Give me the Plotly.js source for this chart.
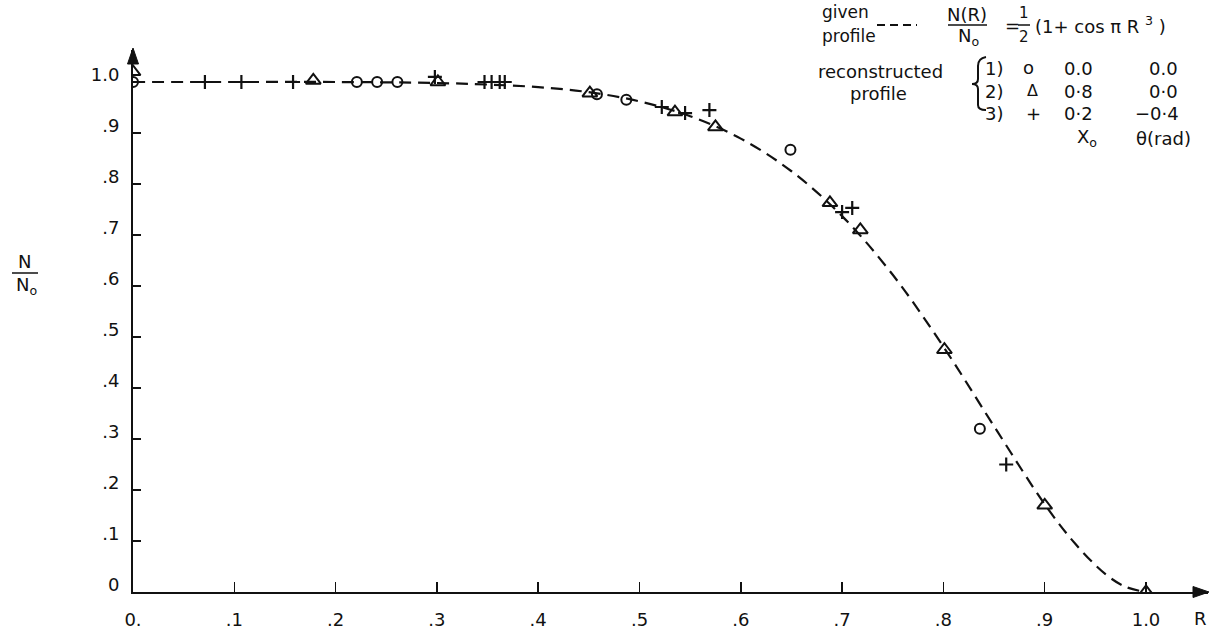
<!DOCTYPE html>
<html><head><meta charset="utf-8">
<script src="https://cdn.plot.ly/plotly-3.0.1.min.js"></script>
<style>html,body{margin:0;padding:0;background:#fff}#chart{width:1212px;height:631px}</style>
</head><body><div id="chart"></div>
<script>
// Given profile (dashed curve)
const curveR = [0, 0.1, 0.2, 0.3, 0.35, 0.4, 0.45, 0.5, 0.55, 0.6, 0.65, 0.7, 0.75, 0.8, 0.85, 0.9, 0.93, 0.96, 0.98, 1.0];
const curveN = [1.0, 1.0, 1.0, 0.998, 0.995, 0.99, 0.98, 0.962, 0.933, 0.889, 0.825, 0.737, 0.622, 0.481, 0.325, 0.172, 0.095, 0.035, 0.01, 0.0];
// 1) circles
const circR = [0.0, 0.221, 0.241, 0.261, 0.458, 0.487, 0.649, 0.836];
const circN = [1.0, 1.0, 1.0, 1.0, 0.976, 0.965, 0.867, 0.32];
// 2) triangles
const triR = [0.0, 0.178, 0.301, 0.451, 0.535, 0.575, 0.688, 0.718, 0.801, 0.90, 1.0];
const triN = [1.02, 1.003, 1.0, 0.978, 0.941, 0.912, 0.763, 0.71, 0.475, 0.17, 0.0];
// 3) crosses
const plusR = [0.071, 0.107, 0.158, 0.298, 0.347, 0.354, 0.362, 0.367, 0.522, 0.545, 0.569, 0.700, 0.710, 0.862];
const plusN = [1.0, 1.0, 1.0, 1.01, 1.0, 1.0, 1.0, 1.0, 0.951, 0.939, 0.945, 0.745, 0.753, 0.25];
// tick labels
const xTickVals = [0, 0.1, 0.2, 0.3, 0.4, 0.5, 0.6, 0.7, 0.8, 0.9, 1.0];
const xTickText = ["0.", ".1", ".2", ".3", ".4", ".5", ".6", ".7", ".8", ".9", "1.0"];
const yTickVals = [0, 0.1, 0.2, 0.3, 0.4, 0.5, 0.6, 0.7, 0.8, 0.9, 1.0];
const yTickText = ["0", ".1", ".2", ".3", ".4", ".5", ".6", ".7", ".8", ".9", "1.0"];

const W = 1212, H = 631, L = 133, R = 4, T = 50, B = 39;
const PW = W - L - R, PH = H - T - B;
const xMax = PW / 1013, yMax = PH / 510;
const FONT = "DejaVu Sans, sans-serif";
const px = X => (X - L) / PW;
const py = Y => (H - B - Y) / PH;

function txt(X, Y, s, size, anchor) {
  return {xref: 'paper', yref: 'paper', x: px(X), y: py(Y), text: s, showarrow: false,
    xanchor: anchor || 'center', yanchor: 'middle', font: {family: FONT, size: size || 18, color: '#111'}};
}
function hline(X0, X1, Y, dash) {
  return {type: 'line', xref: 'paper', yref: 'paper', x0: px(X0), x1: px(X1), y0: py(Y), y1: py(Y),
    line: {color: '#111', width: dash ? 2 : 1.5, dash: dash || 'solid'}};
}
function polyPath(pts) {
  return 'M ' + pts.map(p => px(p[0]) + ' ' + py(p[1])).join(' L ') + ' Z';
}
function pathOf(pts) {
  let s = 'M ' + px(pts[0][0]) + ' ' + py(pts[0][1]);
  for (let i = 1; i < pts.length; i += 3) {
    s += ' C ' + [pts[i], pts[i+1], pts[i+2]].map(p => px(p[0]) + ' ' + py(p[1])).join(', ');
  }
  return s;
}

const traces = [
  {x: curveR, y: curveN, mode: 'lines', line: {color: '#111', width: 2.2, dash: '12px,7px', shape: 'spline'}, hoverinfo: 'skip'},
  {x: circR, y: circN, mode: 'markers', marker: {symbol: 'circle-open', size: 10, color: '#111', line: {width: 2, color: '#111'}}},
  {x: triR, y: triN, mode: 'markers', marker: {symbol: 'triangle-up-open', size: 13, color: '#111', line: {width: 2, color: '#111'}}},
  {x: plusR, y: plusN, mode: 'markers', marker: {symbol: 'cross-thin-open', size: 10, color: '#111', line: {width: 2.2, color: '#111'}}}
];

const annotations = [
  txt(1200, 618, 'R', 18),
  // y title
  txt(25, 261, 'N', 18),
  txt(26, 286, 'N<sub>o</sub>', 18),
  // legend
  txt(820, 12, 'given', 17, 'left'),
  txt(820, 36, 'profile', 17, 'left'),
  txt(967, 14, 'N(R)', 18),
  txt(968, 37, 'N<sub>o</sub>', 18),
  txt(1003, 25, '=', 18, 'left'),
  txt(1024, 13, '1', 15),
  txt(1024, 37, '2', 15),
  txt(1033, 25, '(1+ cos \u03c0 R <sup>3</sup> )', 18, 'left'),
  txt(880, 71, 'reconstructed', 18),
  txt(878, 93, 'profile', 18),
  txt(994, 68, '1)', 18),
  txt(994, 92, '2)', 18),
  txt(994, 114, '3)', 18),
  txt(1028, 67, 'o', 18),
  txt(1032, 90, '\u0394', 16),
  txt(1033, 114, '+', 18),
  txt(1078, 68, '0.0', 18),
  txt(1078, 92, '0\u00b78', 18),
  txt(1078, 114, '0\u00b72', 18),
  txt(1163, 68, '0.0', 18),
  txt(1163, 92, '0\u00b70', 18),
  txt(1157, 114, '\u22120\u00b74', 18),
  txt(1087, 138, 'X<sub>o</sub>', 18),
  txt(1163, 138, '\u03b8(rad)', 18)
];

const shapes = [
  // arrowheads
  {type: 'path', xref: 'paper', yref: 'paper', fillcolor: '#111', line: {color: '#111', width: 1},
   path: polyPath([[1209, 592], [1193, 586.5], [1193, 597.5]])},
  {type: 'path', xref: 'paper', yref: 'paper', fillcolor: '#111', line: {color: '#111', width: 1},
   path: polyPath([[133, 48], [127.5, 64], [138.5, 64]])},
  hline(12, 38, 273),
  hline(877, 917, 25, '8px,5px'),
  hline(948, 987, 25),
  hline(1018, 1030, 25),
  {type: 'path', xref: 'paper', yref: 'paper', line: {color: '#111', width: 2},
   path: pathOf([[986, 57], [980, 58], [978, 61], [978, 66], [978, 72], [978, 78], [978, 79], [978, 83], [975, 84], [972, 84],
                 [975, 84], [978, 85], [978, 89], [978, 95], [978, 100], [978, 105], [978, 108], [980, 110], [986, 110]])}
];

const layout = {
  width: W, height: H,
  margin: {l: L, r: R, t: T, b: B, pad: 0},
  paper_bgcolor: '#fff', plot_bgcolor: '#fff',
  showlegend: false, hovermode: false,
  font: {family: FONT, size: 18, color: '#111'},
  xaxis: {range: [0, xMax], showline: true, linecolor: '#111', linewidth: 2, zeroline: false, showgrid: false,
    ticks: 'inside', ticklen: 10, tickwidth: 1.5, tickcolor: '#111',
    tickvals: xTickVals, ticktext: xTickText, ticklabelstandoff: 10, tickfont: {family: FONT, size: 18, color: '#111'}},
  yaxis: {range: [0, yMax], showline: true, linecolor: '#111', linewidth: 2, zeroline: false, showgrid: false,
    ticks: 'inside', ticklen: 8, tickwidth: 1.5, tickcolor: '#111',
    tickvals: yTickVals, ticktext: yTickText, ticklabelstandoff: 8, ticklabelshift: -7, tickfont: {family: FONT, size: 18, color: '#111'}},
  annotations: annotations,
  shapes: shapes
};

Plotly.newPlot('chart', traces, layout, {displayModeBar: false, staticPlot: true});
</script>
</body></html>
